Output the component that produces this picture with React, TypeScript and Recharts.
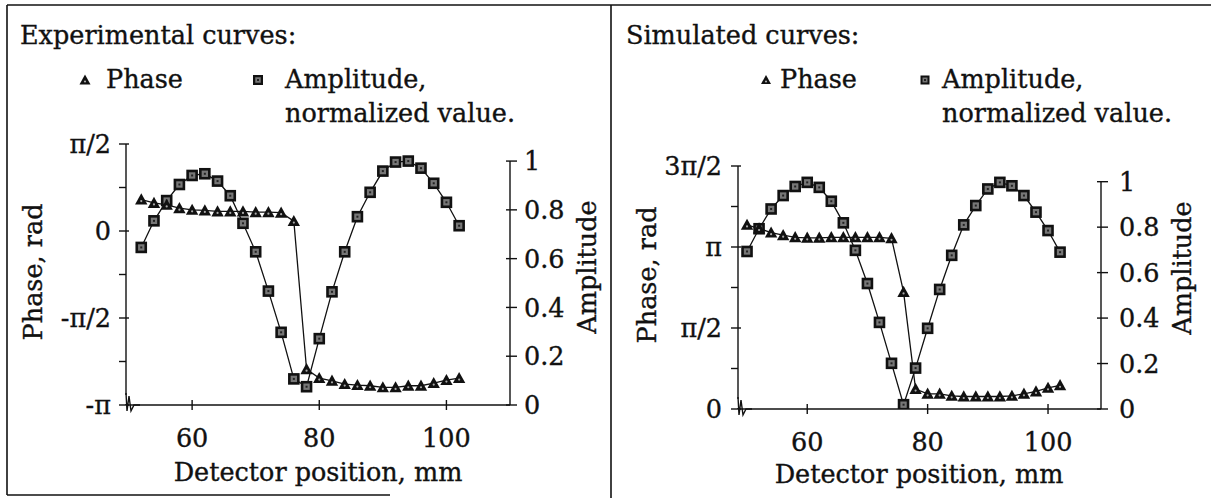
import React from "react";
import { ComposedChart, Line, XAxis, YAxis, ReferenceLine } from "recharts";

const PI = Math.PI;
const FONT = "'DejaVu Serif', serif";
const INK = "#111";
const FS = 25.5;

// Experimental curves (left panel)
const expPosition = [52, 54, 56, 58, 60, 62, 64, 66, 68, 70, 72, 74, 76, 78, 80, 82, 84, 86, 88, 90, 92, 94, 96, 98, 100, 102];
const expPhase = [0.568, 0.507, 0.471, 0.412, 0.382, 0.371, 0.353, 0.353, 0.353, 0.34, 0.34, 0.33, 0.179, -2.495, -2.656, -2.705, -2.764, -2.782, -2.794, -2.824, -2.824, -2.794, -2.794, -2.746, -2.692, -2.656];
const expAmplitude = [0.646, 0.755, 0.838, 0.904, 0.941, 0.948, 0.918, 0.858, 0.745, 0.628, 0.467, 0.298, 0.107, 0.075, 0.272, 0.464, 0.628, 0.772, 0.872, 0.959, 0.996, 1.0, 0.971, 0.909, 0.831, 0.735];

// Simulated curves (right panel)
const simPosition = [50, 52, 54, 56, 58, 60, 62, 64, 66, 68, 70, 72, 74, 76, 78, 80, 82, 84, 86, 88, 90, 92, 94, 96, 98, 100, 102];
const simPhase = [3.57, 3.5, 3.42, 3.37, 3.33, 3.32, 3.32, 3.33, 3.33, 3.33, 3.33, 3.33, 3.31, 2.27, 0.387, 0.295, 0.295, 0.255, 0.242, 0.242, 0.242, 0.242, 0.255, 0.295, 0.34, 0.41, 0.46];
const simAmplitude = [0.693, 0.793, 0.88, 0.939, 0.979, 0.997, 0.975, 0.914, 0.819, 0.698, 0.552, 0.381, 0.201, 0.019, 0.18, 0.355, 0.526, 0.676, 0.81, 0.895, 0.968, 0.997, 0.982, 0.939, 0.866, 0.785, 0.69];

const positionTicks = [60, 80, 100];
const amplitudeTicks = [0, 0.2, 0.4, 0.6, 0.8, 1];
const expPhaseTicks = [-PI, (-3 * PI) / 4, -PI / 2, -PI / 4, 0, PI / 4, PI / 2];
const simPhaseTicks = [0, PI / 4, PI / 2, (3 * PI) / 4, PI, (5 * PI) / 4, (3 * PI) / 2];
const phaseNames: Record<string, string> = { "-2": "-π", "-1": "-π/2", "0": "0", "1": "π/2", "2": "π", "3": "3π/2" };

function phaseLabel(v: number) {
  const q = Math.round(v / (PI / 4));
  if (q % 2 !== 0) return "";
  return phaseNames[String(q / 2)] ?? "";
}

// a thin stroke on the glyphs to get closer to the heavy scanned print
const textStyle = { fontFamily: FONT, fontSize: FS, fill: INK, stroke: INK, strokeWidth: 0.35 };

function PhaseTick(props: any) {
  const { x, y, payload, gap } = props;
  const label = phaseLabel(payload.value);
  return (
    <g>
      <line x1={x - 7} x2={label ? x + 3 : x} y1={y} y2={y} stroke={INK} strokeWidth={1.4} />
      {label && (
        <text x={x - gap} y={y} dy="0.36em" textAnchor="end" {...textStyle}>
          {label}
        </text>
      )}
    </g>
  );
}

function AmpTick(props: any) {
  const { x, y, payload, gap } = props;
  return (
    <g>
      <line x1={x - 4} x2={x + 7} y1={y} y2={y} stroke={INK} strokeWidth={1.4} />
      <text x={x + gap} y={y} dy="0.36em" textAnchor="start" {...textStyle}>
        {payload.value}
      </text>
    </g>
  );
}

function XTick(props: any) {
  const { x, y, payload } = props;
  return (
    <g>
      <line x1={x} x2={x} y1={y - 5} y2={y + 5} stroke={INK} strokeWidth={1.4} />
      <text x={x} y={y + 42} textAnchor="middle" {...textStyle}>
        {payload.value}
      </text>
    </g>
  );
}

function Triangle({ cx, cy, s = 6.2 }: { cx: number; cy: number; s?: number }) {
  return (
    <g>
      <path d={`M${cx},${cy - s} L${cx + s},${cy + s * 0.8} L${cx - s},${cy + s * 0.8} Z`} fill={INK} />
      <circle cx={cx} cy={cy + 1.5} r={1.1} fill="#aaa" />
    </g>
  );
}

function Square({ cx, cy, s = 5.8 }: { cx: number; cy: number; s?: number }) {
  return (
    <g>
      <rect x={cx - s} y={cy - s} width={s * 2} height={s * 2} fill={INK} />
      <rect x={cx - s * 0.55} y={cy - s * 0.55} width={s * 1.1} height={s * 1.1} fill="#777" />
      <rect x={cx - 1} y={cy - 1} width={2} height={2} fill="#222" />
    </g>
  );
}

type PanelProps = {
  left: number;
  width: number;
  top: number;
  bottom: number;
  leftW: number;
  rightW: number;
  position: number[];
  phase: number[];
  amplitude: number[];
  xDomain: [number, number];
  phaseDomain: [number, number];
  phaseTicks: number[];
  ampMax: number;
  leftGap: number;
  rightGap: number;
};

function Panel(p: PanelProps) {
  const data = p.position.map((x, i) => ({ x, phase: p.phase[i], amp: p.amplitude[i] }));
  return (
    <div style={{ position: "absolute", left: p.left, top: 0 }}>
      <ComposedChart width={p.width} height={498} data={data} margin={{ top: p.top, right: 0, bottom: 0, left: 0 }}>
        <XAxis
          dataKey="x"
          type="number"
          domain={p.xDomain}
          ticks={positionTicks}
          allowDataOverflow
          height={p.bottom}
          tickSize={0}
          tickMargin={0}
          tickLine={false}
          axisLine={{ stroke: INK, strokeWidth: 1.4 }}
          tick={(t: any) => <XTick {...t} />}
        />
        <YAxis
          yAxisId="phase"
          orientation="left"
          width={p.leftW}
          domain={p.phaseDomain}
          ticks={p.phaseTicks}
          interval={0}
          allowDataOverflow
          tickSize={0}
          tickMargin={0}
          tickLine={false}
          axisLine={{ stroke: INK, strokeWidth: 1.4 }}
          tick={(t: any) => <PhaseTick {...t} gap={p.leftGap} />}
        />
        <YAxis
          yAxisId="amp"
          orientation="right"
          width={p.rightW}
          domain={[0, p.ampMax]}
          ticks={amplitudeTicks}
          interval={0}
          allowDataOverflow
          tickSize={0}
          tickMargin={0}
          tickLine={false}
          axisLine={false}
          tick={(t: any) => <AmpTick {...t} gap={p.rightGap} />}
        />
        <ReferenceLine
          yAxisId="amp"
          segment={[
            { x: p.xDomain[1], y: 0 },
            { x: p.xDomain[1], y: 1 },
          ]}
          stroke={INK}
          strokeWidth={1.4}
          ifOverflow="visible"
        />
        <Line
          yAxisId="amp"
          dataKey="amp"
          type="linear"
          stroke={INK}
          strokeWidth={1.3}
          isAnimationActive={false}
          dot={(d: any) => <Square key={`s${d.index}`} cx={d.cx} cy={d.cy} />}
        />
        <Line
          yAxisId="phase"
          dataKey="phase"
          type="linear"
          stroke={INK}
          strokeWidth={1.3}
          isAnimationActive={false}
          dot={(d: any) => <Triangle key={`t${d.index}`} cx={d.cx} cy={d.cy} />}
        />
      </ComposedChart>
    </div>
  );
}

function Break({ x, y }: { x: number; y: number }) {
  return (
    <g>
      <rect x={x - 1} y={y - 10} width={14} height={9} fill="#fff" />
      <path
        d={`M${x},${y - 12} L${x + 1},${y + 6} L${x + 3},${y - 9} L${x + 5},${y + 6} L${x + 8},${y} L${x + 14},${y}`}
        fill="none"
        stroke={INK}
        strokeWidth={1.4}
      />
    </g>
  );
}

export default function App() {
  return (
    <div style={{ position: "absolute", left: 0, top: 0, width: 1211, height: 498, background: "#fff", overflow: "hidden" }}>
      <Panel
        left={0}
        width={611}
        top={144}
        bottom={93}
        leftW={126}
        rightW={101}
        position={expPosition}
        phase={expPhase}
        amplitude={expAmplitude}
        xDomain={[49.6, 110]}
        phaseDomain={[-PI, PI / 2]}
        phaseTicks={expPhaseTicks}
        ampMax={1.07}
        leftGap={15}
        rightGap={14}
      />
      <Panel
        left={611}
        width={600}
        top={166}
        bottom={89}
        leftW={127}
        rightW={110}
        position={simPosition}
        phase={simPhase}
        amplitude={simAmplitude}
        xDomain={[48.5, 108.8]}
        phaseDomain={[0, (3 * PI) / 2]}
        phaseTicks={simPhaseTicks}
        ampMax={1.069}
        leftGap={16}
        rightGap={18}
      />
      <svg width={1211} height={498} style={{ position: "absolute", left: 0, top: 0, pointerEvents: "none" }}>
        <line x1={7} x2={7} y1={5} y2={495} stroke={INK} strokeWidth={1.6} />
        <line x1={7} x2={1211} y1={5} y2={5} stroke={INK} strokeWidth={1.6} />
        <line x1={611} x2={611} y1={5} y2={498} stroke={INK} strokeWidth={1.6} />
        <line x1={7} x2={390} y1={495} y2={495} stroke={INK} strokeWidth={1.6} />

        <Break x={126} y={405} />
        <Break x={738} y={409} />

        <text x={20} y={44} {...textStyle}>Experimental curves:</text>
        <Triangle cx={85} cy={80} s={5.5} />
        <text x={106} y={88} {...textStyle}>Phase</text>
        <Square cx={258} cy={80} s={5} />
        <text x={285} y={88} {...textStyle}>Amplitude,</text>
        <text x={285} y={122} {...textStyle}>normalized value.</text>

        <text x={626} y={44} {...textStyle}>Simulated curves:</text>
        <Triangle cx={766} cy={80} s={5} />
        <text x={780} y={88} {...textStyle}>Phase</text>
        <Square cx={925} cy={80} s={4.5} />
        <text x={942} y={88} {...textStyle}>Amplitude,</text>
        <text x={942} y={122} {...textStyle}>normalized value.</text>

        <text transform="translate(33,272) rotate(-90)" textAnchor="middle" dominantBaseline="central" {...textStyle}>Phase, rad</text>
        <text transform="translate(587,267) rotate(-90)" textAnchor="middle" dominantBaseline="central" {...textStyle}>Amplitude</text>
        <text transform="translate(647,275) rotate(-90)" textAnchor="middle" dominantBaseline="central" {...textStyle}>Phase, rad</text>
        <text transform="translate(1182,268) rotate(-90)" textAnchor="middle" dominantBaseline="central" {...textStyle}>Amplitude</text>

        <text x={318} y={481} textAnchor="middle" {...textStyle}>Detector position, mm</text>
        <text x={919} y={483} textAnchor="middle" {...textStyle}>Detector position, mm</text>
      </svg>
    </div>
  );
}
